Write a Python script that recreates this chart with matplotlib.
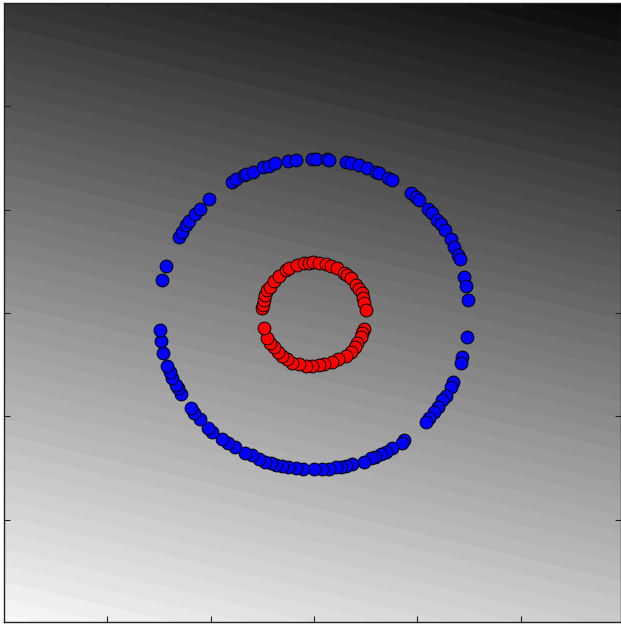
import numpy as np
import matplotlib
matplotlib.use("Agg")
import matplotlib.pyplot as plt

# outer ring (class 0)
outer_x = [-0.979, -0.953, -0.871, -0.850, -0.824, -0.806, -0.768, -0.737, -0.677, -0.527,
           -0.505, -0.452, -0.437, -0.394, -0.327, -0.290, -0.252, -0.166, -0.118, -0.013,
           0.011, 0.086, 0.097, 0.205, 0.237, 0.290, 0.344, 0.398, 0.419, 0.479,
           0.505, 0.624, 0.656, 0.677, 0.737, 0.763, 0.795, 0.817, 0.845, 0.882,
           0.903, 0.931, 0.940, 0.968, 0.983, 0.995, 0.989, 0.957, 0.946, 0.897,
           0.882, 0.850, 0.828, 0.802, 0.774, 0.742, 0.725, 0.581, 0.566, 0.501,
           0.466, 0.430, 0.394, 0.366, 0.323, 0.247, 0.208, 0.176, 0.140, 0.097,
           0.054, 0.000, -0.071, -0.118, -0.166, -0.205, -0.243, -0.279, -0.316, -0.355,
           -0.398, -0.445, -0.510, -0.553, -0.595, -0.656, -0.682, -0.737, -0.774, -0.795,
           -0.858, -0.875, -0.888, -0.914, -0.931, -0.946, -0.972, -0.987, -0.995]
outer_y = [0.213, 0.303, 0.488, 0.525, 0.568, 0.595, 0.639, 0.671, 0.734, 0.847,
           0.863, 0.888, 0.897, 0.912, 0.944, 0.950, 0.966, 0.981, 0.987, 0.994,
           0.994, 0.992, 0.987, 0.974, 0.966, 0.953, 0.934, 0.912, 0.901, 0.873,
           0.858, 0.776, 0.746, 0.729, 0.671, 0.643, 0.600, 0.574, 0.535, 0.475,
           0.424, 0.374, 0.346, 0.234, 0.174, 0.084, -0.153, -0.286, -0.325, -0.443,
           -0.475, -0.534, -0.561, -0.605, -0.641, -0.679, -0.701, -0.819, -0.837, -0.873,
           -0.895, -0.910, -0.927, -0.937, -0.959, -0.974, -0.985, -0.992, -0.995, -1.005,
           -1.008, -1.008, -1.006, -1.002, -0.992, -0.987, -0.979, -0.970, -0.959, -0.944,
           -0.918, -0.901, -0.866, -0.841, -0.815, -0.766, -0.740, -0.684, -0.643, -0.615,
           -0.525, -0.486, -0.465, -0.421, -0.379, -0.342, -0.256, -0.183, -0.110]

# inner ring (class 1)
inner_x = [-0.334, -0.329, -0.323, -0.316, -0.301, -0.286, -0.258, -0.226, -0.179, -0.161,
           -0.108, -0.065, -0.032, -0.006, 0.032, 0.075, 0.108, 0.150, 0.194, 0.215,
           0.237, 0.269, 0.290, 0.308, 0.316, 0.323, 0.334, 0.323, 0.312, 0.301,
           0.279, 0.265, 0.237, 0.205, 0.157, 0.118, 0.065, 0.032, -0.011, -0.050,
           -0.097, -0.140, -0.172, -0.205, -0.230, -0.258, -0.286, -0.301, -0.323]
inner_y = [0.030, 0.052, 0.084, 0.116, 0.148, 0.170, 0.208, 0.239, 0.277, 0.288,
           0.310, 0.321, 0.325, 0.327, 0.325, 0.316, 0.305, 0.288, 0.260, 0.245,
           0.224, 0.181, 0.153, 0.127, 0.095, 0.063, 0.019, -0.103, -0.127, -0.157,
           -0.192, -0.217, -0.250, -0.277, -0.299, -0.314, -0.331, -0.335, -0.340, -0.340,
           -0.331, -0.321, -0.299, -0.277, -0.250, -0.221, -0.192, -0.163, -0.099]

# linear decision surface shown behind the points
coef = (-0.045, -0.19)
intercept = 0.5

xlim = (-2.0, 1.98)
ylim = (-1.994, 2.0)
ticks = [-4 / 3, -2 / 3, 0, 2 / 3, 4 / 3]

fig = plt.figure(figsize=(6.21, 6.25), dpi=100)
ax = fig.add_axes([4 / 621, 3 / 625, 617 / 621, 619 / 625])

xx, yy = np.meshgrid(np.linspace(xlim[0], xlim[1], 400),
                     np.linspace(ylim[0], ylim[1], 400))
zz = intercept + coef[0] * xx + coef[1] * yy
ax.contourf(xx, yy, zz, levels=np.linspace(0, 1, 51), cmap="gray",
            vmin=0, vmax=1, antialiased=False)

ax.scatter(outer_x, outer_y, s=85, c="#0000ff", edgecolors="k",
           linewidths=0.7, zorder=3)
ax.scatter(inner_x, inner_y, s=85, c="#ff0000", edgecolors="k",
           linewidths=0.7, zorder=3)

ax.set_xlim(xlim)
ax.set_ylim(ylim)
ax.set_xticks(ticks)
ax.set_yticks(ticks)
ax.set_xticklabels([])
ax.set_yticklabels([])
ax.tick_params(direction="in", length=4.5, width=0.8, color="#222222",
               top=True, right=True)
for sp in ax.spines.values():
    sp.set_linewidth(1.0)
    sp.set_color("#222222")

fig.savefig("out.png", dpi=100)
